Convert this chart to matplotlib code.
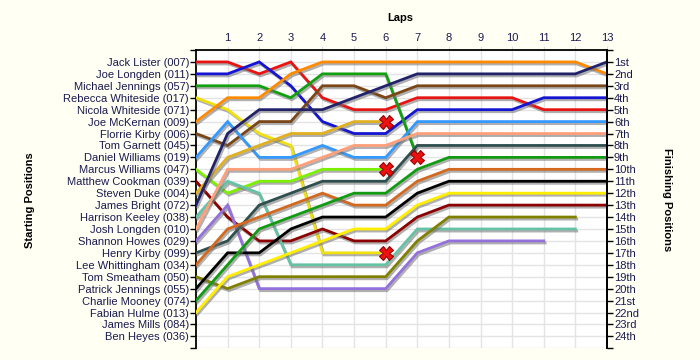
import matplotlib
matplotlib.use("Agg")
import matplotlib.pyplot as plt
import matplotlib.patheffects as pe

plt.rcParams['font.family'] = ['Liberation Sans', 'DejaVu Sans']

# ---- data ----
laps = list(range(0, 14))
lap_labels = [str(i) for i in range(1, 14)]
start_grid = ["Jack Lister (007)", "Joe Longden (011)", "Michael Jennings (057)",
              "Rebecca Whiteside (017)", "Nicola Whiteside (071)", "Joe McKernan (009)",
              "Florrie Kirby (006)", "Tom Garnett (045)", "Daniel Williams (019)",
              "Marcus Williams (047)", "Matthew Cookman (039)", "Steven Duke (004)",
              "James Bright (072)", "Harrison Keeley (038)", "Josh Longden (010)",
              "Shannon Howes (029)", "Henry Kirby (099)", "Lee Whittingham (034)",
              "Tom Smeatham (050)", "Patrick Jennings (055)", "Charlie Mooney (074)",
              "Fabian Hulme (013)", "James Mills (084)", "Ben Heyes (036)"]
finish_labels = ["1st", "2nd", "3rd"] + [f"{i}th" for i in range(4, 21)] + ["21st", "22nd", "23rd", "24th"]

# positions by lap (lap 0 = starting position)
jack_lister = [1, 1, 2, 1, 4, 5, 5, 4, 4, 4, 4, 5, 5, 5]
joe_longden = [2, 2, 1, 3, 6, 7, 7, 5, 5, 5, 5, 4, 4, 4]
michael_jennings = [3, 3, 3, 4, 2, 2, 2, 9]
rebecca_whiteside = [4, 5, 7, 8, 17, 17, 17]
joe_mckernan = [6, 4, 4, 2, 1, 1, 1, 1, 1, 1, 1, 1, 1, 2]
florrie_kirby = [7, 8, 6, 6, 3, 3, 4, 3, 3, 3, 3, 3, 3, 3]
daniel_williams = [9, 6, 9, 9, 8, 9, 9, 6, 6, 6, 6, 6, 6, 6]
marcus_williams = [10, 12, 11, 11, 10, 10, 10]
matthew_cookman = [11, 14, 16, 16, 15, 16, 16, 14, 13, 13, 13, 13, 13, 13]
steven_duke = [12, 9, 8, 7, 7, 6, 6]
james_bright = [13, 7, 5, 5, 5, 4, 3, 2, 2, 2, 2, 2, 2, 1]
harrison_keeley = [14, 11, 12, 18, 18, 18, 18, 15, 15, 15, 15, 15, 15]
josh_longden = [15, 10, 10, 10, 9, 8, 8, 7, 7, 7, 7, 7, 7, 7]
shannon_howes = [16, 13, 20, 20, 20, 20, 20, 17, 16, 16, 16, 16]
henry_kirby = [17, 16, 13, 12, 11, 11, 11, 8, 8, 8, 8, 8, 8, 8]
lee_whittingham = [18, 15, 14, 13, 12, 13, 13, 11, 10, 10, 10, 10, 10, 10]
tom_smeatham = [19, 20, 19, 19, 19, 19, 19, 16, 14, 14, 14, 14, 14]
patrick_jennings = [20, 17, 17, 15, 14, 14, 14, 12, 11, 11, 11, 11, 11, 11]
charlie_mooney = [21, 18, 15, 14, 13, 12, 12, 10, 9, 9, 9, 9, 9, 9]
fabian_hulme = [22, 19, 18, 17, 16, 15, 15, 13, 12, 12, 12, 12, 12, 12]
retired = ["michael_jennings", "rebecca_whiteside", "marcus_williams", "steven_duke"]

series = [
    ("jack_lister", jack_lister, "#e81414"),
    ("joe_longden", joe_longden, "#1414d2"),
    ("michael_jennings", michael_jennings, "#12a012"),
    ("rebecca_whiteside", rebecca_whiteside, "#f0e010"),
    ("joe_mckernan", joe_mckernan, "#ff8a00"),
    ("florrie_kirby", florrie_kirby, "#7a4616"),
    ("daniel_williams", daniel_williams, "#3399ff"),
    ("marcus_williams", marcus_williams, "#7cf000"),
    ("matthew_cookman", matthew_cookman, "#8b0000"),
    ("steven_duke", steven_duke, "#e0b020"),
    ("james_bright", james_bright, "#22226a"),
    ("harrison_keeley", harrison_keeley, "#66c2a5"),
    ("josh_longden", josh_longden, "#ffa07a"),
    ("shannon_howes", shannon_howes, "#9370db"),
    ("henry_kirby", henry_kirby, "#2f4f4f"),
    ("lee_whittingham", lee_whittingham, "#d2691e"),
    ("tom_smeatham", tom_smeatham, "#808000"),
    ("patrick_jennings", patrick_jennings, "#000000"),
    ("charlie_mooney", charlie_mooney, "#129a12"),
    ("fabian_hulme", fabian_hulme, "#ffee00"),
]

label_color = "#1a1a50"

fig = plt.figure(figsize=(7, 3.6), dpi=100, facecolor="#fffff4")
ax = fig.add_axes([196/700, 1-348.3/360, (607-196)/700, (348.3-50)/360])
ax.set_facecolor("white")

shadow = [pe.SimpleLineShadow(offset=(1.0, -1.5), shadow_color="#707070", alpha=0.55),
          pe.Normal()]
for key, pos, col in series:
    ax.plot(laps[:len(pos)], pos, color=col, lw=2.0, solid_joinstyle="miter",
            path_effects=shadow, zorder=3)
for key, pos, col in series:
    if key in retired:
        ax.plot(laps[len(pos)-1], pos[-1], marker="X", ms=10, color="#ee1111",
                markeredgecolor="#990000", markeredgewidth=0.8, zorder=5)

ax.set_xlim(0, 13)
ax.set_ylim(25, 0)

# x axis on top
ax.xaxis.tick_top()
ax.set_xticks(range(1, 14))
ax.set_xticklabels(lap_labels, color=label_color, fontsize=8)
ax.tick_params(axis="x", length=3, color="#dddddd", pad=2)

# left axis
ax.set_yticks(range(0, 26))
ax.set_yticklabels([""] + start_grid + [""], color=label_color, fontsize=8)
ax.tick_params(axis="y", length=4, width=1.0, color="black", pad=1)

ax.grid(True, color="#e4e4e4", lw=1.0, zorder=0)
ax.set_axisbelow(True)

for s in ["left", "right", "top"]:
    ax.spines[s].set_color("black")
    ax.spines[s].set_linewidth(1.3)
ax.spines["bottom"].set_visible(False)

ax2 = ax.twinx()
ax2.set_ylim(25, 0)
ax2.set_yticks(range(0, 26))
ax2.set_yticklabels([""] + finish_labels + [""], color=label_color, fontsize=8)
ax2.tick_params(axis="y", length=4, width=1.0, color="black", pad=1)
for s in ["left", "bottom", "top"]:
    ax2.spines[s].set_visible(False)
ax2.spines["right"].set_linewidth(1.3)

fig.text(400/700, 1-18/360, "Laps", ha="center", va="center", fontsize=8, fontweight="bold")
fig.text(30/700, 1-200/360, "Starting Positions", ha="center", va="center",
         rotation=90, fontsize=8, fontweight="bold")
fig.text(667/700, 1-200/360, "Finishing Positions", ha="center", va="center",
         rotation=270, fontsize=8, fontweight="bold")

fig.savefig("out.png", dpi=100, facecolor=fig.get_facecolor())
